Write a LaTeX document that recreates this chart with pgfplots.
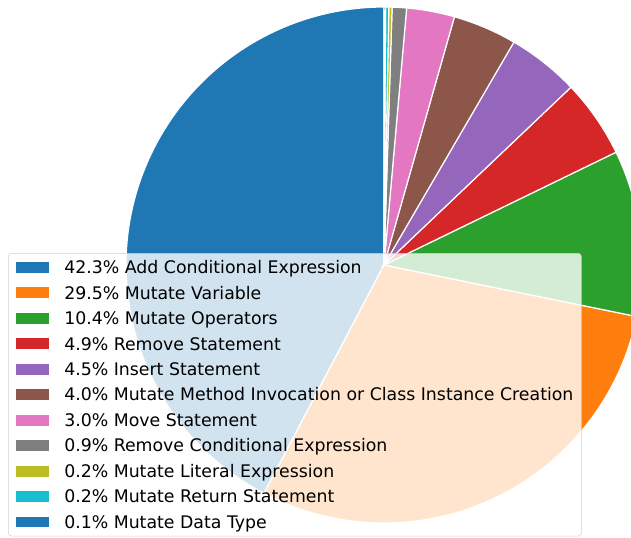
\documentclass[border=0pt]{standalone}
\usepackage{fontspec}
\setmainfont{DejaVu Sans}
\usepackage{pgfplots}
\pgfplotsset{compat=1.18}

\definecolor{c0}{HTML}{1F77B4}
\definecolor{c1}{HTML}{FF7F0E}
\definecolor{c2}{HTML}{2CA02C}
\definecolor{c3}{HTML}{D62728}
\definecolor{c4}{HTML}{9467BD}
\definecolor{c5}{HTML}{8C564B}
\definecolor{c6}{HTML}{E377C2}
\definecolor{c7}{HTML}{7F7F7F}
\definecolor{c8}{HTML}{BCBD22}
\definecolor{c9}{HTML}{17BECF}

% running total of the shares, the pie starts at 90 deg and turns counterclockwise
\gdef\cum{0}
\newcommand\piewedge[2]{%
  \pgfmathsetmacro\wa{90+3.6*\cum}%
  \pgfmathsetmacro\cumnew{\cum+#2}%
  \xdef\cum{\cumnew}%
  \pgfmathsetmacro\wb{90+3.6*\cum}%
  \edef\tmp{\noexpand\addplot[fill=#1, draw=white, line width=0.9pt,
    domain=\wa:\wb, samples=100] ({cos(x)},{sin(x)}) -- (axis cs:0,0) -- cycle;}%
  \tmp}

\begin{document}
\begin{tikzpicture}
\begin{axis}[
  width=473.25pt, height=403.5pt, scale only axis,
  xmin=-1.4884, xmax=0.9574, ymin=-1.0581, ymax=1.0271,
  axis lines=none, clip=true,
  legend image code/.code={\fill[#1, draw=none, fill opacity=1, sharp corners]
    (0pt,-4.1pt) rectangle (24.75pt,4.1pt);},
  legend cell align=left,
  legend style={at={(0.0127,0.5297)}, anchor=north west,
    font=\fontsize{13}{15}\selectfont,
    fill=white, fill opacity=0.8, draw=black!20, draw opacity=0.9,
    text opacity=1, rounded corners=2.5pt,
    inner xsep=6pt, inner ysep=5.8pt, row sep=9.62pt,
    nodes={inner sep=0pt, text height=9.48pt, text depth=0pt},
    cells={anchor=west}},
  /tikz/every odd column/.append style={column sep=11.25pt},
]
\piewedge{c0}{42.3}
\addlegendentry{42.3\% Add Conditional Expression}
\piewedge{c1}{29.5}
\addlegendentry{29.5\% Mutate Variable}
\piewedge{c2}{10.4}
\addlegendentry{10.4\% Mutate Operators}
\piewedge{c3}{4.9}
\addlegendentry{4.9\% Remove Statement}
\piewedge{c4}{4.5}
\addlegendentry{4.5\% Insert Statement}
\piewedge{c5}{4.0}
\addlegendentry{4.0\% Mutate Method Invocation or Class Instance Creation}
\piewedge{c6}{3.0}
\addlegendentry{3.0\% Move Statement}
\piewedge{c7}{0.9}
\addlegendentry{0.9\% Remove Conditional Expression}
\piewedge{c8}{0.2}
\addlegendentry{0.2\% Mutate Literal Expression}
\piewedge{c9}{0.2}
\addlegendentry{0.2\% Mutate Return Statement}
\piewedge{c0}{0.1}
\addlegendentry{0.1\% Mutate Data Type}
\coordinate (bl) at (rel axis cs:0,0);
\coordinate (tr) at (rel axis cs:1,1);
\end{axis}
\pgfresetboundingbox
\path[use as bounding box] (bl) rectangle (tr);
\end{tikzpicture}
\end{document}
